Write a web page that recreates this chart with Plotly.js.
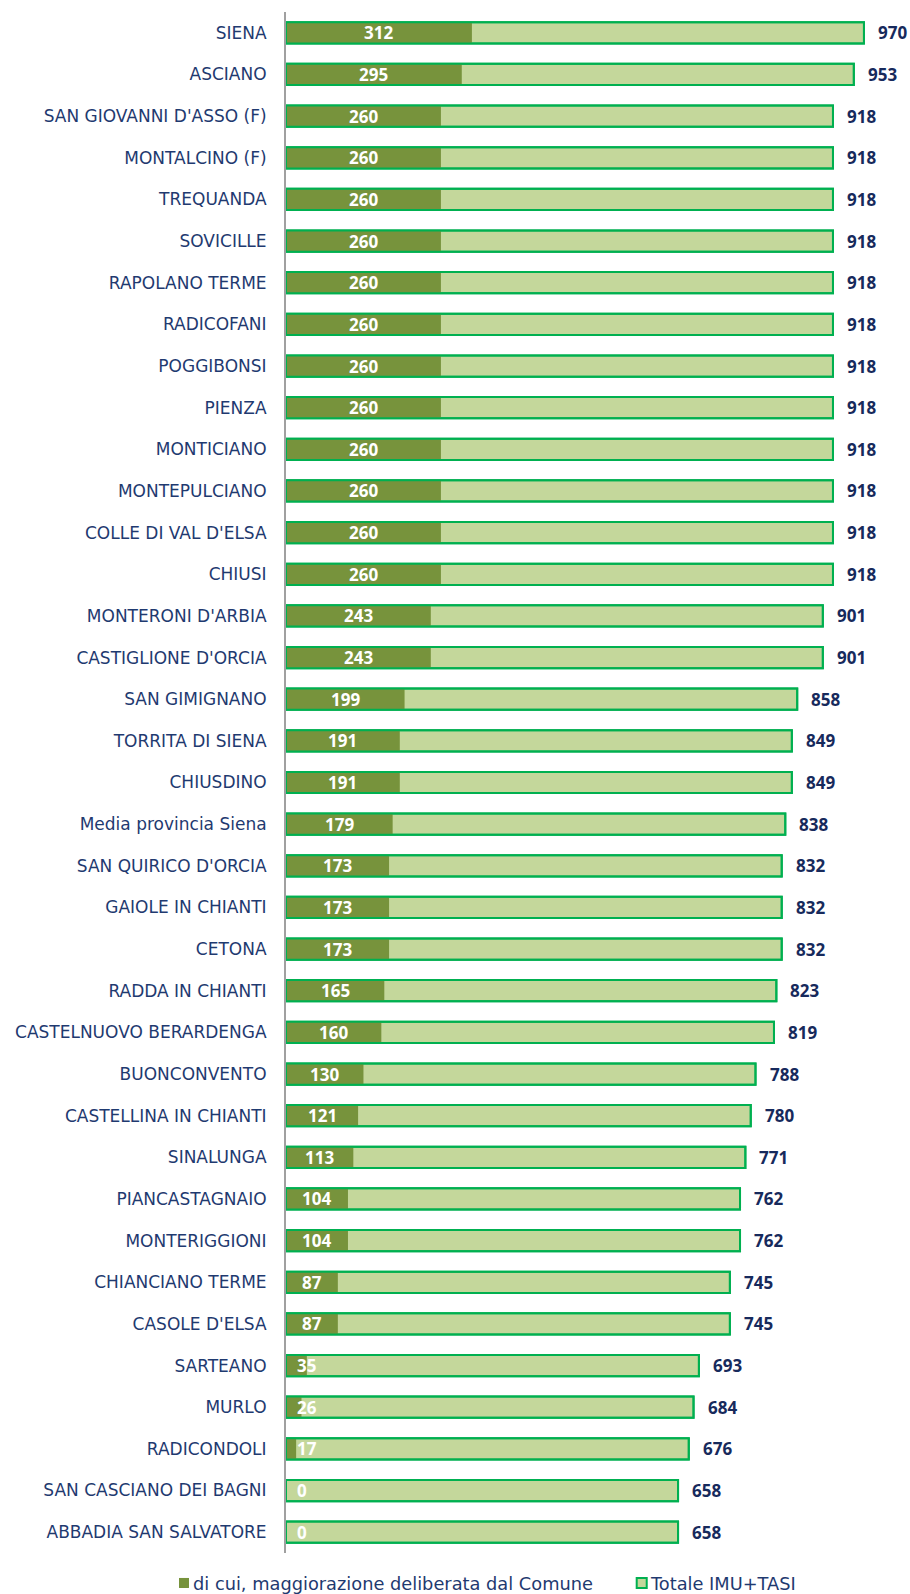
<!DOCTYPE html>
<html>
<head>
<meta charset="utf-8">
<script src="https://cdn.plot.ly/plotly-3.0.1.min.js"></script>
<style>html,body{margin:0;padding:0;background:#fff;}#chart{width:910px;height:1594px;}</style>
</head>
<body>
<div id="chart"></div>
<script>
const comuni = ["SIENA","ASCIANO","SAN GIOVANNI D'ASSO (F)","MONTALCINO (F)","TREQUANDA","SOVICILLE","RAPOLANO TERME","RADICOFANI","POGGIBONSI","PIENZA","MONTICIANO","MONTEPULCIANO","COLLE DI VAL D'ELSA","CHIUSI","MONTERONI D'ARBIA","CASTIGLIONE D'ORCIA","SAN GIMIGNANO","TORRITA DI SIENA","CHIUSDINO","Media provincia Siena","SAN QUIRICO D'ORCIA","GAIOLE IN CHIANTI","CETONA","RADDA IN CHIANTI","CASTELNUOVO BERARDENGA","BUONCONVENTO","CASTELLINA IN CHIANTI","SINALUNGA","PIANCASTAGNAIO","MONTERIGGIONI","CHIANCIANO TERME","CASOLE D'ELSA","SARTEANO","MURLO","RADICONDOLI","SAN CASCIANO DEI BAGNI","ABBADIA SAN SALVATORE"];
const maggiorazione = [312,295,260,260,260,260,260,260,260,260,260,260,260,260,243,243,199,191,191,179,173,173,173,165,160,130,121,113,104,104,87,87,35,26,17,0,0];
const totale = [970,953,918,918,918,918,918,918,918,918,918,918,918,918,901,901,858,849,849,838,832,832,832,823,819,788,780,771,762,762,745,745,693,684,676,658,658];
const seriesNames = ["di cui, maggiorazione deliberata dal Comune","Totale IMU+TASI"];

const dark = "#77933C", light = "#C4D79B", border = "#00B050";
const navy = "#1F3A70", valNavy = "#172A5C";

const traces = [
  {type:"bar", orientation:"h", y:comuni, x:totale, name:seriesNames[1], showlegend:false,
   marker:{color:light, line:{color:border, width:2}}, hoverinfo:"skip"},
  {type:"bar", orientation:"h", y:comuni, x:maggiorazione, name:seriesNames[0], showlegend:false,
   marker:{color:dark, line:{width:0}}, hoverinfo:"skip"},
  {type:"bar", orientation:"h", y:comuni, x:totale, showlegend:false,
   marker:{color:"rgba(0,0,0,0)", line:{color:border, width:2}}, hoverinfo:"skip"}
];

const annotations = [];
comuni.forEach((c,i)=>{
  const v = maggiorazione[i];
  if (v >= 60) {
    annotations.push({x:v/2, y:c, xref:"x", yref:"y", text:String(v), showarrow:false,
      xanchor:"center", font:{family:"Open Sans", size:17, color:"#ffffff", weight:700}});
  } else {
    annotations.push({x:0, y:c, xref:"x", yref:"y", text:String(v), showarrow:false,
      xanchor:"left", xshift:9, font:{family:"Open Sans", size:17, color:"#ffffff", weight:700}});
  }
  annotations.push({x:totale[i], y:c, xref:"x", yref:"y", text:String(totale[i]), showarrow:false,
    xanchor:"left", xshift:12, font:{family:"Open Sans", size:17, color:valNavy, weight:700}});
});

// custom legend (paper coordinates)
const legFont = {family:"DejaVu Sans", size:17.8, color:navy};
annotations.push({x:-0.158, y:-0.0195, xref:"paper", yref:"paper", text:seriesNames[0], showarrow:false,
  xanchor:"left", yanchor:"middle", font:legFont});
annotations.push({x:0.604, y:-0.0195, xref:"paper", yref:"paper", text:seriesNames[1], showarrow:false,
  xanchor:"left", yanchor:"middle", font:legFont});
const shapes = [
  {type:"rect", xref:"paper", yref:"paper", x0:-0.1783, x1:-0.1617, y0:-0.0227, y1:-0.0162,
   fillcolor:dark, line:{width:0}},
  {type:"rect", xref:"paper", yref:"paper", x0:0.5845, x1:0.6012, y0:-0.0227, y1:-0.0162,
   fillcolor:light, line:{color:border, width:2}}
];

const layout = {
  width:910, height:1594,
  margin:{l:286, r:24, t:12, b:41},
  paper_bgcolor:"#ffffff", plot_bgcolor:"#ffffff",
  barmode:"overlay", bargap:0.49,
  showlegend:false,
  xaxis:{range:[0,1007], showgrid:false, zeroline:false, showticklabels:false, showline:false, fixedrange:true},
  yaxis:{type:"category", autorange:"reversed", showgrid:false, zeroline:false, showline:true,
    linecolor:"#A0A0A0", linewidth:2, ticks:"", ticklabelstandoff:14,
    tickfont:{family:"DejaVu Sans", size:17, color:navy}},
  annotations:annotations,
  shapes:shapes
};

Plotly.newPlot("chart", traces, layout, {staticPlot:true});
</script>
</body>
</html>
